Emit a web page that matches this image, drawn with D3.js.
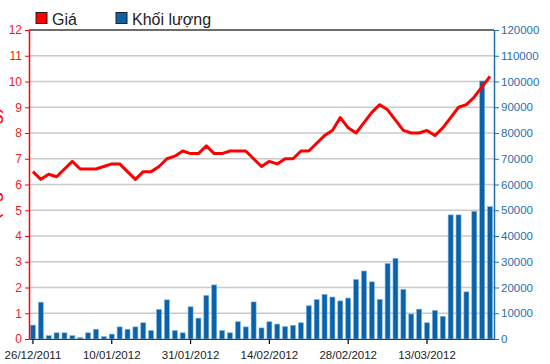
<!DOCTYPE html>
<html>
<head>
<meta charset="utf-8">
<script src="https://cdn.jsdelivr.net/npm/d3@7"></script>
<style>
  body { margin: 0; background: #fff; }
  svg { display: block; font-family: 'Liberation Sans', Arial, sans-serif; }
</style>
</head>
<body>
<div id="chart"></div>
<script>
// trading days shown on the category axis
const dates = [
  '26/12/2011', '27/12/2011', '28/12/2011', '29/12/2011', '30/12/2011',
  '03/01/2012', '04/01/2012', '05/01/2012', '06/01/2012', '09/01/2012',
  '10/01/2012', '11/01/2012', '12/01/2012', '13/01/2012', '16/01/2012',
  '17/01/2012', '18/01/2012', '19/01/2012', '20/01/2012', '30/01/2012',
  '31/01/2012', '01/02/2012', '02/02/2012', '03/02/2012', '06/02/2012',
  '07/02/2012', '08/02/2012', '09/02/2012', '10/02/2012', '13/02/2012',
  '14/02/2012', '15/02/2012', '16/02/2012', '17/02/2012', '20/02/2012',
  '21/02/2012', '22/02/2012', '23/02/2012', '24/02/2012', '27/02/2012',
  '28/02/2012', '29/02/2012', '01/03/2012', '02/03/2012', '05/03/2012',
  '06/03/2012', '07/03/2012', '08/03/2012', '09/03/2012', '12/03/2012',
  '13/03/2012', '14/03/2012', '15/03/2012', '16/03/2012', '19/03/2012',
  '20/03/2012', '21/03/2012', '22/03/2012', '23/03/2012'
];

// Giá
const prices = [
  6.5, 6.2, 6.4, 6.3, 6.6, 6.9, 6.6, 6.6, 6.6, 6.7,
  6.8, 6.8, 6.5, 6.2, 6.5, 6.5, 6.7, 7.0, 7.1, 7.3,
  7.2, 7.2, 7.5, 7.2, 7.2, 7.3, 7.3, 7.3, 7.0, 6.7,
  6.9, 6.8, 7.0, 7.0, 7.3, 7.3, 7.6, 7.9, 8.1, 8.6,
  8.2, 8.0, 8.4, 8.8, 9.1, 8.9, 8.5, 8.1, 8.0, 8.0,
  8.1, 7.9, 8.2, 8.6, 9.0, 9.1, 9.4, 9.8, 10.2
];

// Khối lượng
const volumes = [
  5400, 14300, 1300, 2400, 2400, 1300, 500, 2400, 3800, 900,
  1900, 4700, 3800, 4700, 6300, 3300, 11500, 15200, 3300, 2400,
  12500, 8100, 16900, 21000, 3300, 2400, 6700, 4700, 14400, 4300,
  6700, 5800, 4800, 5300, 6300, 12900, 15300, 17300, 16300, 14800,
  15900, 23100, 26400, 22200, 15400, 29300, 31300, 19300, 9700, 11600,
  6300, 11100, 8800, 48200, 48200, 18300, 49600, 100200, 51400
];

const priceTicks = d3.range(0, 13);
const volumeTicks = d3.range(0, 120001, 10000);
const dateTicks = dates.filter((d, i) => i % 10 === 0);

const legendItems = [
  { label: 'Giá', color: '#ff0000' },
  { label: 'Khối lượng', color: '#0a62a8' }
];

const W = 550;
const H = 364;
const plot = { left: 29, right: 494, top: 30, bottom: 339 };
const priceColor = '#ff0000';
const volumeColor = '#0a62a8';
const rightAxisColor = '#1f6fae';

const svg = d3.select('#chart').append('svg').attr('width', W).attr('height', H);

const x = d3.scaleBand().domain(dates).range([plot.left, plot.right]).padding(0);
const yPrice = d3.scaleLinear().domain([0, 12]).range([plot.bottom, plot.top]);
const yVolume = d3.scaleLinear().domain([0, 120000]).range([plot.bottom, plot.top]);

// gridlines follow the price ticks (they line up with the volume ticks)
svg.append('g')
  .selectAll('line')
  .data(priceTicks)
  .join('line')
  .attr('x1', plot.left)
  .attr('x2', plot.right)
  .attr('y1', (d) => yPrice(d))
  .attr('y2', (d) => yPrice(d))
  .attr('stroke', '#cacaca')
  .attr('stroke-width', 1.5);

// top border of the plot
svg.append('line')
  .attr('x1', plot.left).attr('x2', plot.right)
  .attr('y1', plot.top).attr('y2', plot.top)
  .attr('stroke', '#4a4a4a')
  .attr('stroke-width', 1.5);

// volume bars
const barW = 5;
svg.append('g')
  .selectAll('rect')
  .data(volumes)
  .join('rect')
  .attr('x', (d, i) => x(dates[i]) + (x.bandwidth() - barW) / 2)
  .attr('y', (d) => yVolume(d))
  .attr('width', barW)
  .attr('height', (d) => yVolume(0) - yVolume(d))
  .attr('fill', volumeColor)
  .attr('stroke', '#7fb2e0')
  .attr('stroke-width', 0.6);

// price line
const line = d3.line()
  .x((d, i) => x(dates[i]) + x.bandwidth() / 2)
  .y((d) => yPrice(d));

svg.append('path')
  .datum(prices)
  .attr('d', line)
  .attr('fill', 'none')
  .attr('stroke', priceColor)
  .attr('stroke-width', 3)
  .attr('stroke-linejoin', 'round');

// bottom axis
const gx = svg.append('g')
  .attr('transform', `translate(0, ${plot.bottom})`)
  .call(d3.axisBottom(x).tickValues(dateTicks).tickSize(5).tickPadding(4).tickSizeOuter(0));
gx.select('.domain').attr('stroke', '#3a3a3a').attr('stroke-width', 1);
gx.selectAll('.tick line').attr('stroke', '#000').attr('stroke-width', 1.2);
gx.selectAll('.tick text').attr('fill', '#222').style('font-size', '11.5px').attr('dy', '0.95em');

// left axis (price)
const gyl = svg.append('g')
  .attr('transform', `translate(${plot.left}, 0)`)
  .call(d3.axisLeft(yPrice).tickValues(priceTicks).tickSize(4).tickPadding(3).tickSizeOuter(0));
gyl.select('.domain').attr('stroke', priceColor).attr('stroke-width', 1.5);
gyl.selectAll('.tick line').attr('stroke', priceColor);
gyl.selectAll('.tick text').attr('fill', '#f01c1c').style('font-size', '12px');

// right axis (volume), plain integers without separators
const gyr = svg.append('g')
  .attr('transform', `translate(${plot.right}, 0)`)
  .call(d3.axisRight(yVolume).tickValues(volumeTicks).tickFormat(d3.format('d'))
    .tickSize(5).tickPadding(2).tickSizeOuter(0));
gyr.select('.domain').attr('stroke', rightAxisColor).attr('stroke-width', 1.5);
gyr.selectAll('.tick line').attr('stroke', rightAxisColor);
gyr.selectAll('.tick text').attr('fill', rightAxisColor).style('font-size', '11.5px');

// left title: in the original only its descenders peek in at the window edge
svg.append('text')
  .attr('transform', 'translate(-1.5, 257) rotate(-90)')
  .attr('fill', priceColor)
  .style('font-size', '20px')
  .text('Giá (nghìn đồng)');

// legend
const legend = svg.append('g');
const legendX = [36, 116];
legendItems.forEach((item, i) => {
  legend.append('rect')
    .attr('x', legendX[i]).attr('y', 12.5)
    .attr('width', 11).attr('height', 11)
    .attr('fill', item.color)
    .attr('stroke', '#222')
    .attr('stroke-width', 1);
  legend.append('text')
    .attr('x', legendX[i] + 16).attr('y', 25)
    .attr('fill', '#222')
    .style('font-size', '16px')
    .text(item.label);
});
</script>
</body>
</html>
